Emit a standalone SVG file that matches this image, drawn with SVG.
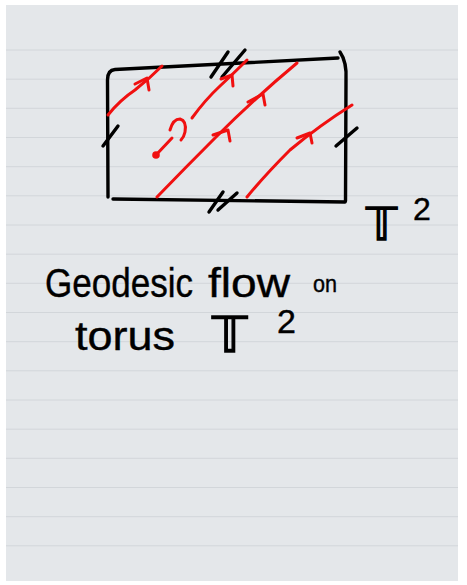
<svg xmlns="http://www.w3.org/2000/svg" width="467" height="585" viewBox="0 0 467 585">
<style>
.rule{stroke:#d2d6da;stroke-width:1}
.ink{fill:none;stroke:#000;stroke-width:3.4;stroke-linecap:round;stroke-linejoin:round}
.red{fill:none;stroke:#f01010;stroke-width:3;stroke-linecap:round;stroke-linejoin:round}
.hw{font-family:"Liberation Sans","DejaVu Sans",sans-serif;fill:#000;stroke:#000;stroke-width:0.4}
.bb{font-family:"DejaVu Sans","Noto Sans",sans-serif;fill:#000;stroke:#000;stroke-width:1.4}
</style>
<rect width="467" height="585" fill="#ffffff"/>
<rect x="6" y="5" width="452" height="576" fill="#e4e7ea"/>
<g id="rules">
<line class="rule" x1="6" y1="50" x2="458" y2="50"/>
<line class="rule" x1="6" y1="79.2" x2="458" y2="79.2"/>
<line class="rule" x1="6" y1="108.3" x2="458" y2="108.3"/>
<line class="rule" x1="6" y1="137.5" x2="458" y2="137.5"/>
<line class="rule" x1="6" y1="166.7" x2="458" y2="166.7"/>
<line class="rule" x1="6" y1="195.8" x2="458" y2="195.8"/>
<line class="rule" x1="6" y1="225" x2="458" y2="225"/>
<line class="rule" x1="6" y1="254.2" x2="458" y2="254.2"/>
<line class="rule" x1="6" y1="283.3" x2="458" y2="283.3"/>
<line class="rule" x1="6" y1="312.5" x2="458" y2="312.5"/>
<line class="rule" x1="6" y1="341.7" x2="458" y2="341.7"/>
<line class="rule" x1="6" y1="370.8" x2="458" y2="370.8"/>
<line class="rule" x1="6" y1="400" x2="458" y2="400"/>
<line class="rule" x1="6" y1="429.2" x2="458" y2="429.2"/>
<line class="rule" x1="6" y1="458.3" x2="458" y2="458.3"/>
<line class="rule" x1="6" y1="487.5" x2="458" y2="487.5"/>
<line class="rule" x1="6" y1="516.7" x2="458" y2="516.7"/>
<line class="rule" x1="6" y1="545.8" x2="458" y2="545.8"/>
</g>
<g id="torus-square">
<path class="ink" d="M108,197 L107.5,80 Q107.5,70 115,69.5 L338,58"/>
<path class="ink" d="M340,52 Q347,62 346,80 L345.5,201"/>
<path class="ink" d="M113,199 L345,202"/>
</g>
<g id="gluing-marks">
<path class="ink" d="M103,146 L118,126"/>
<path class="ink" d="M336,146 L357,128"/>
<path class="ink" d="M211,77 L228,52"/>
<path class="ink" d="M222,77 L245,50"/>
<path class="ink" d="M209,212 L223,192"/>
<path class="ink" d="M218,210 L237,193"/>
</g>
<g id="geodesics">
<path class="red" d="M108,115 Q120,100 135,90 Q150,78 162,66"/>
<path class="red" d="M135,84 L147,78 L149,90"/>
<path class="red" d="M192,118 Q205,100 220,86 Q235,72 247,60"/>
<path class="red" d="M221,79 L232,75 L233,86"/>
<path class="red" d="M157,197 Q185,168 215,138 Q255,98 297,63"/>
<path class="red" d="M213,135 L228,130 L230,141"/>
<path class="red" d="M248,102 L263,94 L265,105"/>
<path class="red" d="M247,197 Q265,175 290,150 Q320,125 352,105"/>
<path class="red" d="M297,138 L310,133 L312,143"/>
<circle cx="156" cy="155" r="3.8" fill="#f01010"/>
<path class="red" d="M156,155 L172,138"/>
<path class="red" d="M170,130 Q173,119 180,119 Q187,121 185,132 Q184,137 181,140"/>
</g>
<g id="label-T2">
<text x="366" y="240"><tspan class="bb" font-size="44">𝕋</tspan><tspan class="hw" x="413" y="220" font-size="32">2</tspan></text>
</g>
<g id="caption">
<text class="hw" font-size="40"><tspan x="45" y="297" textLength="148" lengthAdjust="spacingAndGlyphs">Geodesic</tspan><tspan x="208" y="297" textLength="82" lengthAdjust="spacingAndGlyphs">flow</tspan><tspan x="313" y="292" font-size="24" textLength="24" lengthAdjust="spacingAndGlyphs">on</tspan></text>
<text class="hw" font-size="40"><tspan x="75" y="350" textLength="100" lengthAdjust="spacingAndGlyphs">torus</tspan><tspan class="bb" x="212" y="352" font-size="50">𝕋</tspan><tspan x="277" y="333" font-size="34">2</tspan></text>
</g>
</svg>
